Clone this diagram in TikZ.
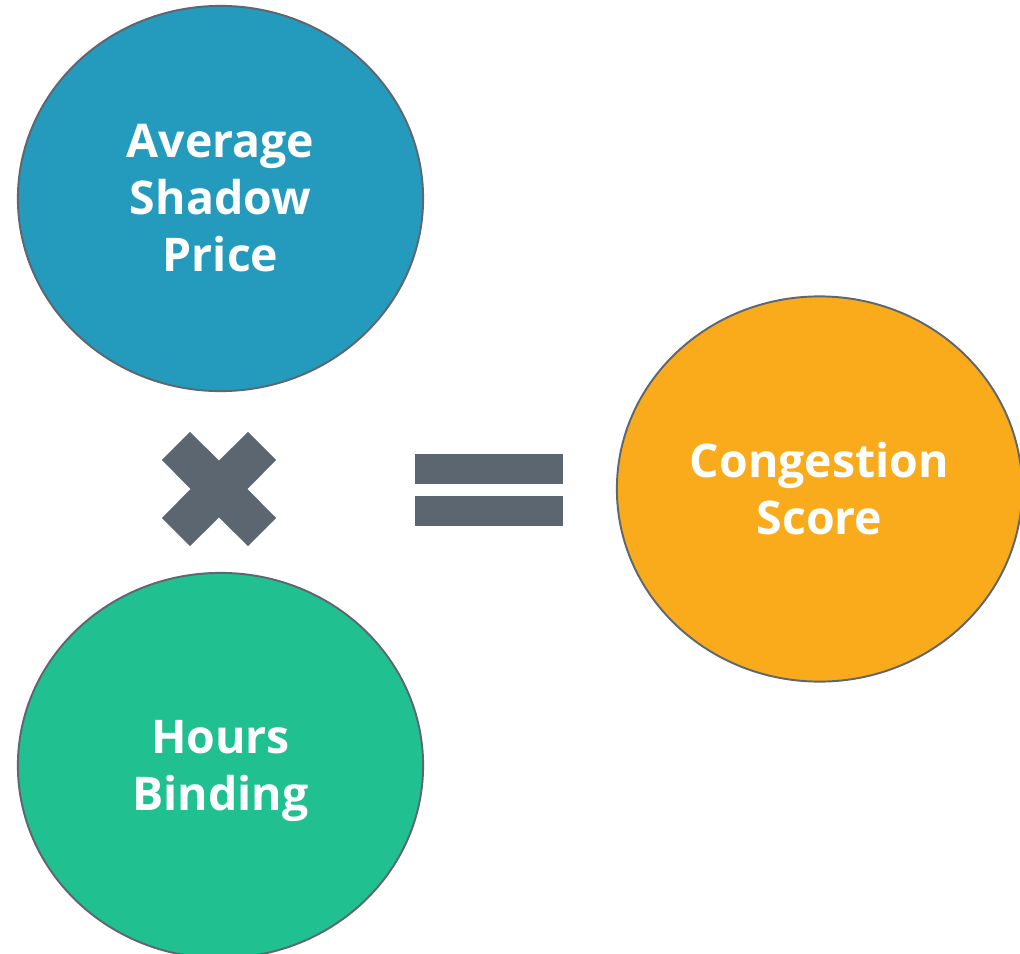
\documentclass[tikz,border=0pt]{standalone}
\usepackage{fontspec}
\setmainfont{Open Sans}
\usetikzlibrary{shapes.geometric}
\definecolor{priceblue}{HTML}{249ABD}
\definecolor{hoursgreen}{HTML}{21C091}
\definecolor{scoreorange}{HTML}{F9AB1C}
\definecolor{opgray}{HTML}{5B6670}
\definecolor{rimgray}{HTML}{5E6670}
\tikzset{
  bubble/.style={ellipse, draw=rimgray, line width=0.55pt, inner sep=0pt,
    minimum width=4.05cm, minimum height=3.85cm, text=white, align=center,
    font=\fontsize{13.2}{16.2}\selectfont\bfseries},
  opmark/.style={fill=opgray, draw=none}
}
\begin{document}
\begin{tikzpicture}[x=0.01cm, y=-0.01cm]
  \useasboundingbox (0,0) rectangle (1020,954);
  \clip (0,0) rectangle (1020,954);
  \fill[white] (0,0) rectangle (1020,954);

  % operands and result
  \node[bubble, fill=priceblue]   (price) at (220.5,198.5) {Average\\Shadow\\Price};
  \node[bubble, fill=hoursgreen, text depth=0pt] (hours) at (220.5,765.5) {Hours\\Binding};
  \node[bubble, fill=scoreorange] (score) at (819.5,489) {Congestion\\Score};

  % multiplication sign
  \coordinate (times) at (219,489);
  \fill[opmark] (times)
    ++(0,-28.3) -- ++(29,-28.9) -- ++(28.2,28.2) -- ++(-28.9,29)
    -- ++(28.9,29) -- ++(-28.2,28.2) -- ++(-29,-28.9)
    -- ++(-29,28.9) -- ++(-28.2,-28.2) -- ++(28.9,-29)
    -- ++(-28.9,-29) -- ++(28.2,-28.2) -- cycle;

  % equals sign
  \coordinate (equals) at (489.3,490);
  \fill[opmark] (415.3,454.3) rectangle (563.3,484);
  \fill[opmark] (415.3,496) rectangle (563.3,525.7);
\end{tikzpicture}
\end{document}
